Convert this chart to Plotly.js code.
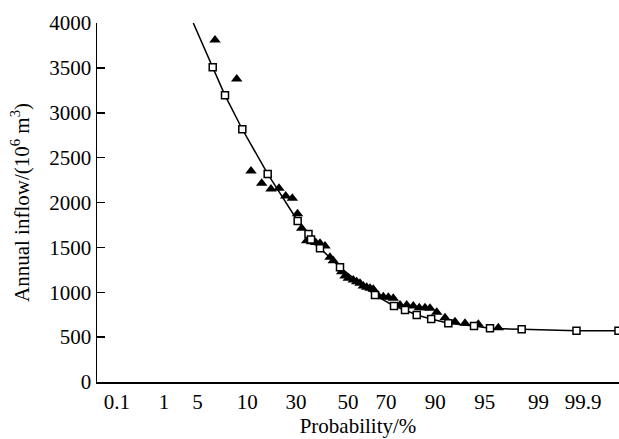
<!DOCTYPE html>
<html>
<head>
<meta charset="utf-8">
<script src="https://cdn.plot.ly/plotly-3.0.1.min.js"></script>
<style>html,body{margin:0;padding:0;background:#fff;}#chart{width:619px;height:439px;}</style>
</head>
<body>
<div id="chart"></div>
<script>
// x values are positions on the probability-paper axis (same units as tickPositions)
const tickLabels = ["0.1", "1", "5", "10", "30", "50", "70", "90", "95", "99", "99.9"];
const tickPositions = [-2.89, -2.30, -1.88, -1.26, -0.65, 0, 0.475, 1.09, 1.71, 2.38, 2.94];

// fitted frequency curve (first point is the curve's extension to the top edge, no marker)
const curveX = [-1.934, -1.691, -1.5375, -1.321, -1.004, -0.629, -0.494, -0.4625, -0.35, -0.1, 0.3375, 0.575, 0.7125, 0.859, 1.04, 1.254, 1.575, 1.775, 2.171, 2.856, 3.381];
const curveY = [4000, 3506, 3194, 2816, 2318, 1794, 1650, 1588, 1490, 1278, 969, 847, 802, 747, 702, 654, 624, 598, 587, 572, 572];

// observed annual inflow
const obsX = [-1.6625, -1.391, -1.2125, -1.079, -0.9625, -0.8625, -0.779, -0.696, -0.631, -0.579, -0.516, -0.454, -0.404, -0.35, -0.2875, -0.225, -0.184, -0.079, -0.0375, 0.004, 0.066, 0.109, 0.15, 0.191, 0.234, 0.275, 0.316, 0.379, 0.441, 0.504, 0.566, 0.65, 0.734, 0.816, 0.891, 0.9625, 1.025, 1.109, 1.2125, 1.3375, 1.4625, 1.629, 1.879];
const obsY = [3811, 3376, 2351, 2214, 2150, 2158, 2072, 2047, 1875, 1712, 1574, 1562, 1554, 1545, 1515, 1389, 1352, 1229, 1181, 1155, 1136, 1117, 1100, 1070, 1055, 1044, 1033, 958, 950, 944, 933, 858, 858, 847, 828, 828, 821, 777, 716, 672, 654, 643, 605];

const font = {family: "Liberation Serif, Times New Roman, serif", size: 21, color: "#000"};

const traces = [
  {x: curveX, y: curveY, mode: "lines", line: {color: "#000", width: 1.5}, hoverinfo: "skip", showlegend: false},
  {x: obsX, y: obsY, mode: "markers", marker: {symbol: "triangle-up", size: 10, color: "#000"}, showlegend: false},
  {x: curveX.slice(1), y: curveY.slice(1), mode: "markers", marker: {symbol: "square", size: 7, color: "#fff", line: {color: "#000", width: 1.5}}, showlegend: false}
];

const layout = {
  width: 619, height: 439,
  margin: {l: 97, r: 0, t: 23, b: 57, pad: 0},
  paper_bgcolor: "#fff", plot_bgcolor: "#fff",
  font: font,
  showlegend: false,
  xaxis: {
    range: [-3.1375, 3.3875],
    tickmode: "array", tickvals: tickPositions, ticktext: tickLabels,
    ticks: "", showgrid: false, zeroline: false,
    showline: true, linecolor: "#000", linewidth: 1.5,
    tickfont: font,
    title: {text: "Probability/%", font: font, standoff: 5}
  },
  yaxis: {
    range: [0, 4000],
    tickmode: "array", tickvals: [0, 500, 1000, 1500, 2000, 2500, 3000, 3500, 4000],
    ticks: "inside", ticklen: 8, tickwidth: 1.5, tickcolor: "#000",
    showgrid: false, zeroline: false,
    showline: true, linecolor: "#000", linewidth: 1.5,
    tickfont: font,
    title: {text: "Annual inflow/(10<sup>6</sup> m<sup>3</sup>)", font: font, standoff: 14}
  }
};

Plotly.newPlot("chart", traces, layout, {staticPlot: true, displayModeBar: false});
</script>
</body>
</html>
